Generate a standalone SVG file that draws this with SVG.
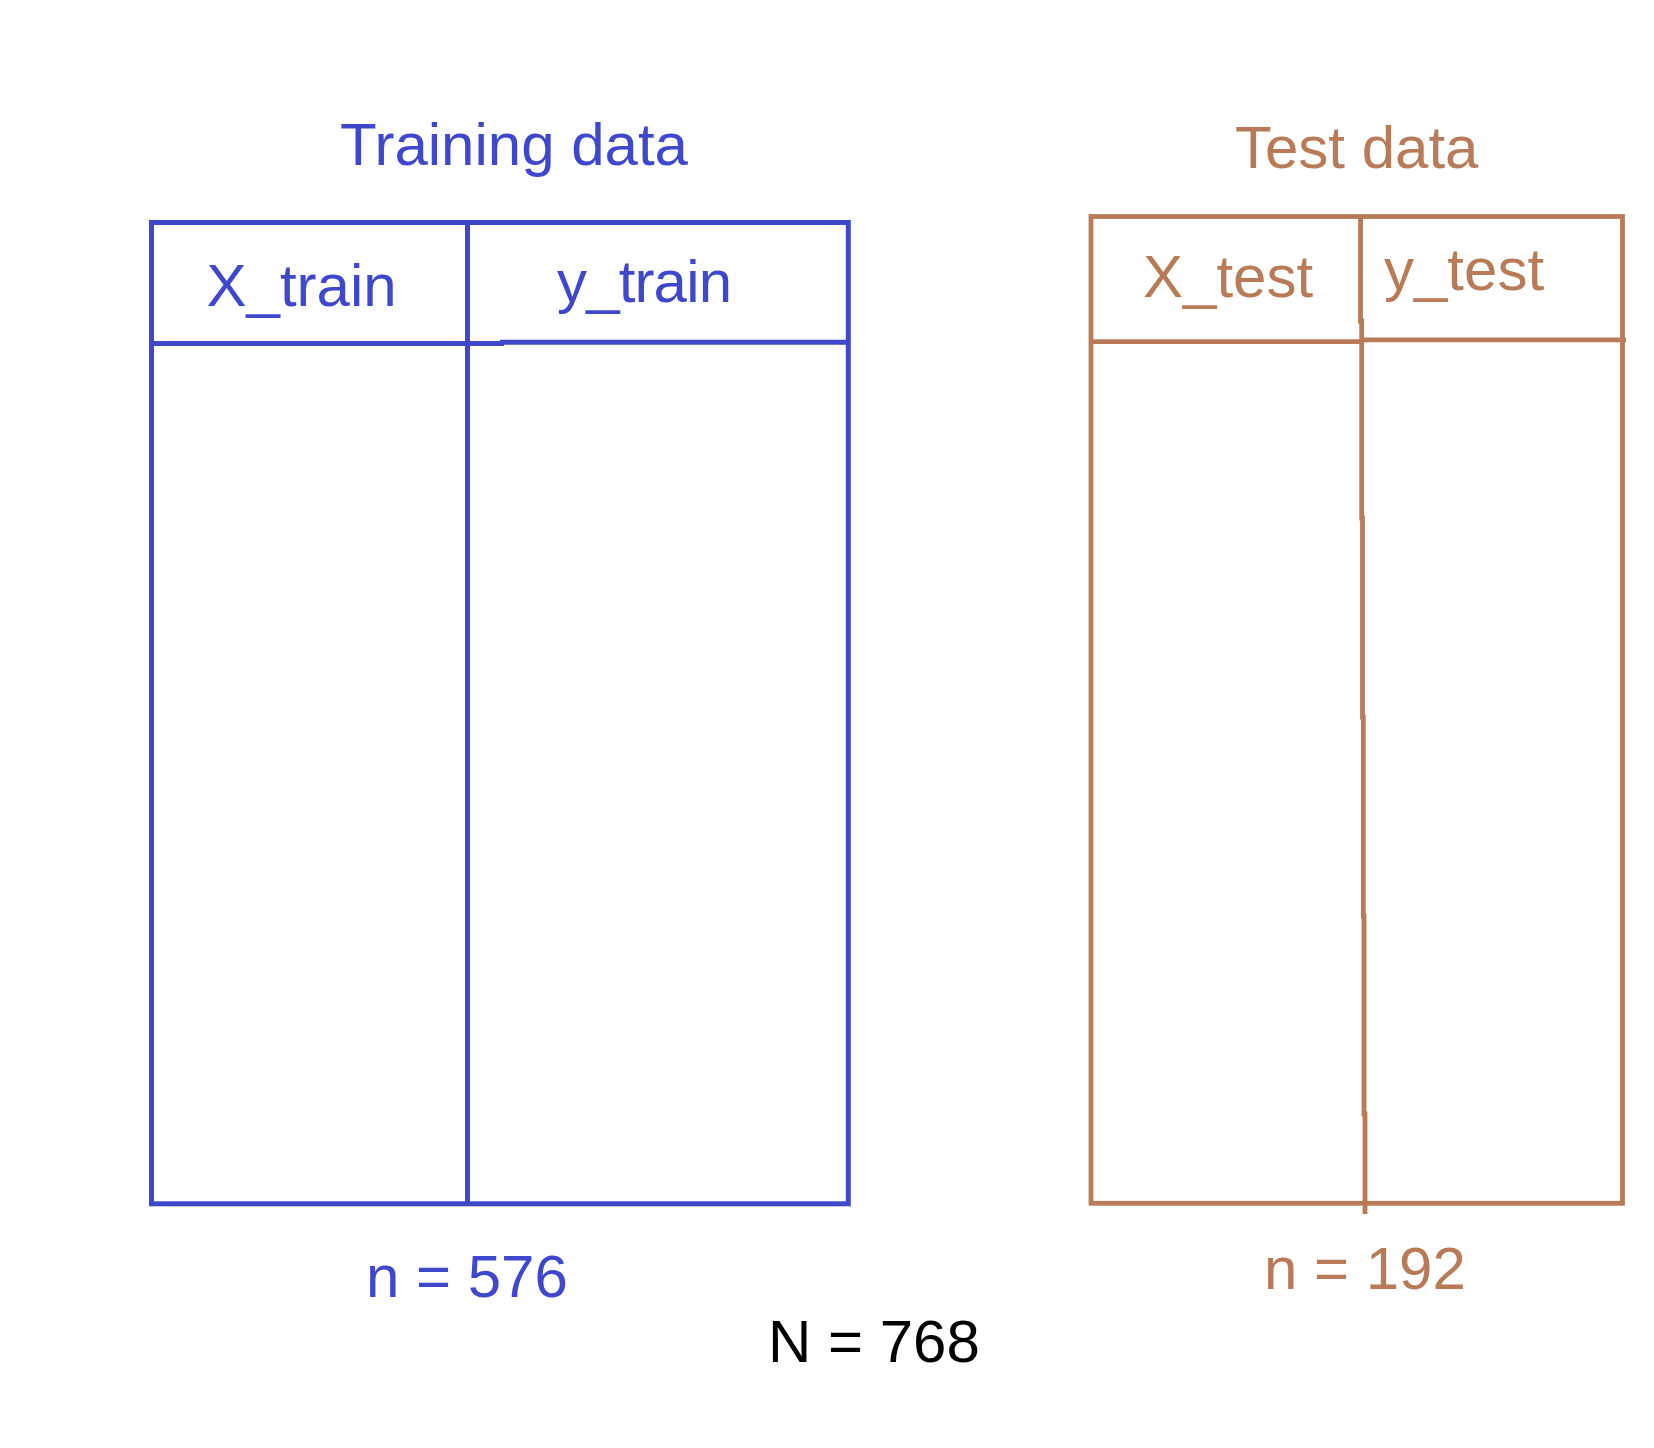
<svg xmlns="http://www.w3.org/2000/svg" width="1654" height="1448" viewBox="0 0 1654 1448">
<style>
text{font-family:"Liberation Sans",Arial,sans-serif;font-size:60px}
.b{fill:#3f48cc}
.o{fill:#b97a57}
.k{fill:#000}
.bl{stroke:#3f48cc;stroke-width:5;fill:none}
.ol{stroke:#b97a57;stroke-width:4.8;fill:none}
</style>
<rect width="1654" height="1448" fill="#fff"/>
<g id="training">
<text class="b" x="340" y="165">Training data</text>
<rect class="bl" x="151.5" y="222.5" width="696.8" height="981.3"/>
<line class="bl" x1="467.5" y1="222.5" x2="467.5" y2="1203.8"/>
<line class="bl" x1="151.5" y1="343.6" x2="504" y2="343.6"/>
<line class="bl" x1="500" y1="342.2" x2="848.3" y2="342.2"/>
<text class="b" x="206.5" y="306">X_train</text>
<text class="b" x="557" y="302" textLength="175">y_train</text>
<text class="b" x="366" y="1297">n = 576</text>
</g>
<g id="test">
<text class="o" x="1235" y="167.7">Test data</text>
<rect class="ol" x="1091" y="216.5" width="531.5" height="986.8"/>
<polyline class="ol" points="1360.5,216.5 1360.5,321 1361.7,321 1361.7,518 1362.5,518 1362.5,717 1363.3,717 1363.3,916 1364,916 1364,1114 1365,1114 1365,1214"/>
<line class="ol" x1="1091" y1="341.6" x2="1362" y2="341.6"/>
<line class="ol" x1="1362" y1="339.8" x2="1626" y2="339.8"/>
<text class="o" x="1143" y="296.7">X_test</text>
<text class="o" x="1384" y="290">y_test</text>
<text class="o" x="1264" y="1288.5">n = 192</text>
</g>
<g id="total">
<text class="k" x="768" y="1362">N = 768</text>
</g>
<g id="connectors"/>
</svg>
